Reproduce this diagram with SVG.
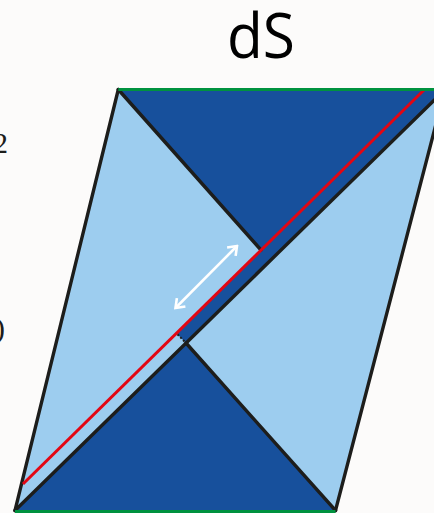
<svg xmlns="http://www.w3.org/2000/svg" width="434" height="513" viewBox="0 0 434 513">
  <defs>
    <style>
      .light { fill: #9DCDEF; }
      .dark { fill: #17509C; }
      .edge { stroke: #1D1D1B; stroke-width: 3.4; fill: none; stroke-linecap: round; }
      .green { stroke: #00923F; stroke-width: 3; fill: none; }
      .red { stroke: #E30613; stroke-width: 3; fill: none; }
      .arrow { stroke: #FFFFFF; stroke-width: 2.6; fill: none; }
      .serif { font-family: "Liberation Serif", "Times New Roman", serif; font-size: 30px; fill: #1D1D1B; }
      .title { font-family: "Open Sans", "Noto Sans", sans-serif; font-size: 62px; fill: #000000; }
    </style>
    <marker id="head" viewBox="-10 -7 12 14" markerWidth="12" markerHeight="14" refX="0" refY="0" orient="auto-start-reverse" markerUnits="userSpaceOnUse">
      <path d="M-8,-6 L0,0 L-8,6" stroke="#FFFFFF" stroke-width="2.6" fill="none"/>
    </marker>
  </defs>
  <rect x="0" y="0" width="434" height="513" fill="#FCFBFA"/>

  <g id="labels">
    <text class="title" x="227" y="58" textLength="68" lengthAdjust="spacingAndGlyphs">dS</text>
    <text class="serif" x="-7" y="153">2</text>
    <text class="serif" x="-5" y="338">)</text>
  </g>

  <g id="parallelogram">
    <polygon class="light" points="118.3,89.5 445,89.5 335.5,510.5 15,510.5"/>
  </g>

  <g id="top-triangle">
    <polygon class="dark" points="118.3,89.5 445,89.5 186,343 176.4,333.2 261,250"/>
  </g>

  <g id="bottom-triangle">
    <polygon class="dark" points="15,510.5 335.5,510.5 186,343"/>
  </g>

  <g id="connectors">
    <line class="edge" x1="118.3" y1="89.5" x2="15" y2="510.5"/>
    <line class="edge" x1="445" y1="89.5" x2="335.5" y2="510.5"/>
    <line class="edge" x1="118.3" y1="89.5" x2="261" y2="250"/>
    <line class="edge" x1="445" y1="89.5" x2="15" y2="510.5"/>
    <line class="edge" x1="186" y1="343" x2="335.5" y2="510.5"/>
    <line x1="177.5" y1="334.3" x2="185" y2="342" stroke="#1D1D1B" stroke-width="2" stroke-dasharray="2 2"/>
    <line class="red" x1="424" y1="90" x2="23" y2="484"/>
    <line class="green" x1="118.3" y1="89.5" x2="434" y2="89.5"/>
    <line class="green" x1="15" y1="511.5" x2="335.5" y2="511.5"/>
    <line class="arrow" x1="175.5" y1="308" x2="237" y2="246" marker-start="url(#head)" marker-end="url(#head)"/>
  </g>
</svg>
